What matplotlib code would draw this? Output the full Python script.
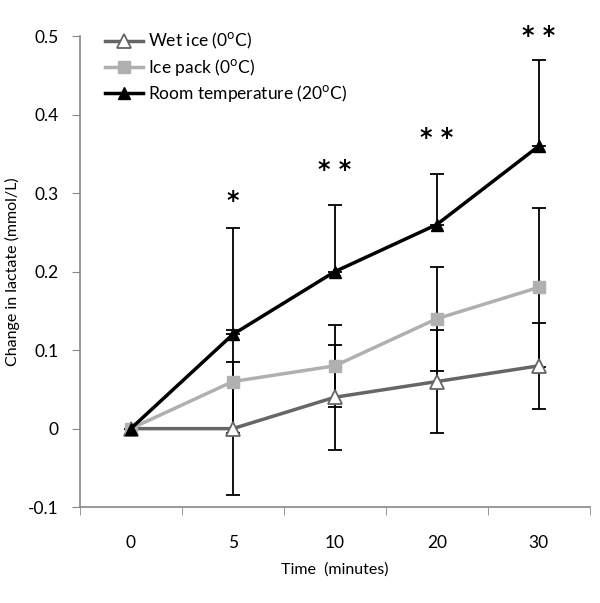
import numpy as np
import matplotlib.pyplot as plt

# Data
times = ['0', '5', '10', '20', '30']
wet_ice = [0, 0, 0.04, 0.06, 0.08]
wet_ice_err = [0, 0.085, 0.067, 0.066, 0.055]
ice_pack = [0, 0.06, 0.08, 0.14, 0.18]
ice_pack_err = [0, 0.066, 0.052, 0.066, 0.101]
room_temp = [0, 0.12, 0.20, 0.26, 0.36]
room_temp_err = [0, 0.135, 0.085, 0.065, 0.11]   # upper bars only
stars = ['', '*', '* *', '* *', '* *']
star_y = [0, 0.29, 0.33, 0.37, 0.50]

plt.rcParams['font.family'] = ['Lato', 'DejaVu Sans']

fig = plt.figure(figsize=(6, 6.03), dpi=100)
ax = fig.add_axes([0.133, 0.159, 0.85, 0.781])
x = np.arange(len(times))

eb = dict(ecolor='black', elinewidth=1.3, capsize=5, capthick=1.3, zorder=2)

ax.errorbar(x, wet_ice, yerr=wet_ice_err, fmt='none', **eb)
ax.errorbar(x, ice_pack, yerr=ice_pack_err, fmt='none', **eb)
ax.errorbar(x, room_temp, yerr=[np.zeros(len(x)), room_temp_err], fmt='none', **eb)

ax.plot(x, wet_ice, color='#666666', lw=2.5, marker='^', ms=10,
        mfc='white', mec='#666666', mew=1.3, zorder=3, label='Wet ice (0$^\\mathrm{o}$C)')
ax.plot(x, ice_pack, color='#b0b0b0', lw=2.5, marker='s', ms=8,
        mfc='#b0b0b0', mec='#b0b0b0', zorder=4, label='Ice pack (0$^\\mathrm{o}$C)')
ax.plot(x, room_temp, color='black', lw=2.5, marker='^', ms=9,
        zorder=5, label='Room temperature (20$^\\mathrm{o}$C)')

for xi, s, sy in zip(x, stars, star_y):
    if s:
        ax.text(xi, sy, s, ha='center', va='center', fontsize=17, fontweight='bold',
                family='DejaVu Sans', clip_on=False)

ax.set_xlim(-0.5, 4.5)
ax.set_ylim(-0.1, 0.5)
ax.set_xticks(x)
ax.set_xticklabels(times)
ax.set_xticks(np.arange(-0.5, 5, 1), minor=True)
ax.tick_params(axis='x', which='major', length=0, pad=20, labelsize=12.5)
ax.tick_params(axis='x', which='minor', length=6, color='#888888', direction='out')
ax.set_yticks(np.arange(-0.1, 0.51, 0.1))
ax.set_yticklabels(['-0.1', '0', '0.1', '0.2', '0.3', '0.4', '0.5'])
ax.tick_params(axis='y', length=6, color='#888888', labelsize=12.5, pad=9)

for side in ['top', 'right']:
    ax.spines[side].set_visible(False)
for side in ['left', 'bottom']:
    ax.spines[side].set_color('#888888')
    ax.spines[side].set_linewidth(1.2)

ax.set_xlabel('Time  (minutes)', fontsize=11.5, labelpad=8)
ax.set_ylabel('Change in lactate (mmol/L)', fontsize=11.5, labelpad=6)

ax.legend(loc='upper left', bbox_to_anchor=(0.035, 1.025), frameon=False, fontsize=12.5,
          handlelength=2.2, labelspacing=0.3, handletextpad=0.3, borderaxespad=0)

fig.savefig('out.png', dpi=100)
